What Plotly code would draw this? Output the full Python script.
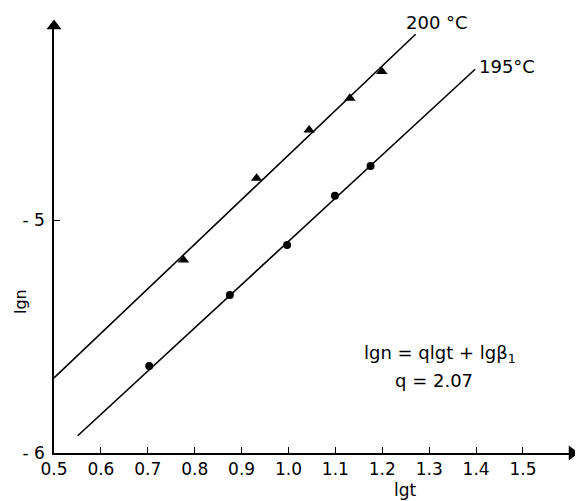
import plotly.graph_objects as go

# data
tri_x = [0.776, 0.932, 1.044, 1.131, 1.199]
tri_y = [-5.172, -4.821, -4.614, -4.478, -4.363]
cir_x = [0.703, 0.875, 0.997, 1.099, 1.175]
cir_y = [-5.627, -5.322, -5.107, -4.896, -4.768]
fit200_x = [0.5, 1.271]
fit200_y = [-5.678, -4.203]
fit195_x = [0.5505, 1.398]
fit195_y = [-5.926, -4.353]
xtick_vals = [0.5, 0.6, 0.7, 0.8, 0.9, 1.0, 1.1, 1.2, 1.3, 1.4, 1.5]
xtick_text = ["0.5", "0.6", "0.7", "0.8", "0.9", "1.0", "1.1", "1.2", "1.3", "1.4", "1.5"]
ytick_vals = [-6, -5]
ytick_text = ["- 6", "- 5"]

FONT = "DejaVu Sans"
X_MIN, X_MAX = 0.5, 1.6045
Y_MIN, Y_MAX = -6.0, -4.1674

fig = go.Figure()
fig.add_trace(go.Scatter(x=fit200_x, y=fit200_y, mode="lines",
                         line=dict(color="black", width=1.6), showlegend=False))
fig.add_trace(go.Scatter(x=fit195_x, y=fit195_y, mode="lines",
                         line=dict(color="black", width=1.6), showlegend=False))
fig.add_trace(go.Scatter(x=tri_x, y=tri_y, mode="markers",
                         marker=dict(symbol="triangle-up", size=10, color="black"),
                         showlegend=False))
fig.add_trace(go.Scatter(x=cir_x, y=cir_y, mode="markers",
                         marker=dict(symbol="circle", size=8, color="black"),
                         showlegend=False))
# axis arrowheads
fig.add_trace(go.Scatter(x=[X_MAX], y=[Y_MIN], mode="markers", cliponaxis=False,
                         marker=dict(symbol="triangle-right", size=13, color="black"),
                         showlegend=False, hoverinfo="skip"))
fig.add_trace(go.Scatter(x=[X_MIN], y=[Y_MAX], mode="markers", cliponaxis=False,
                         marker=dict(symbol="triangle-up", size=13, color="black"),
                         showlegend=False, hoverinfo="skip"))

fig.update_layout(
    width=583, height=501,
    margin=dict(l=46, r=19, t=18, b=56),
    paper_bgcolor="white", plot_bgcolor="white",
    font=dict(family=FONT, size=17, color="black"),
    xaxis=dict(range=[X_MIN, X_MAX], tickvals=xtick_vals, ticktext=xtick_text,
               ticks="inside", ticklen=6, tickcolor="black", tickwidth=1.2,
               showline=True, linecolor="black", linewidth=1.6,
               showgrid=False, zeroline=False, tickfont=dict(size=17)),
    yaxis=dict(range=[Y_MIN, Y_MAX], tickvals=ytick_vals, ticktext=ytick_text,
               ticks="inside", ticklen=6, tickcolor="black", tickwidth=1.2,
               showline=True, linecolor="black", linewidth=1.6,
               showgrid=False, zeroline=False, tickfont=dict(size=17),
               ticklabelstandoff=4),
)

# plot area in page pixels: x 54..572, y 26..453
def px(xp):
    return (xp - 54) / 518.0

def py(yp):
    return (453 - yp) / 427.0

def label(xp, yp, text, size=18, angle=0):
    fig.add_annotation(x=px(xp), y=py(yp), xref="paper", yref="paper",
                       xanchor="center", yanchor="middle", text=text,
                       showarrow=False, textangle=angle, font=dict(size=size))

# axis titles
label(405, 490, "lgt", 17)
label(20, 302, "lgn", 16, -90)

# line labels
label(437, 23, "200 °C")
label(507, 66, "195°C")

# equation
label(440, 354, "lgn = qlgt + lgβ<sub>1</sub>")
label(434, 380, "q = 2.07")

fig.write_html("out.html")
